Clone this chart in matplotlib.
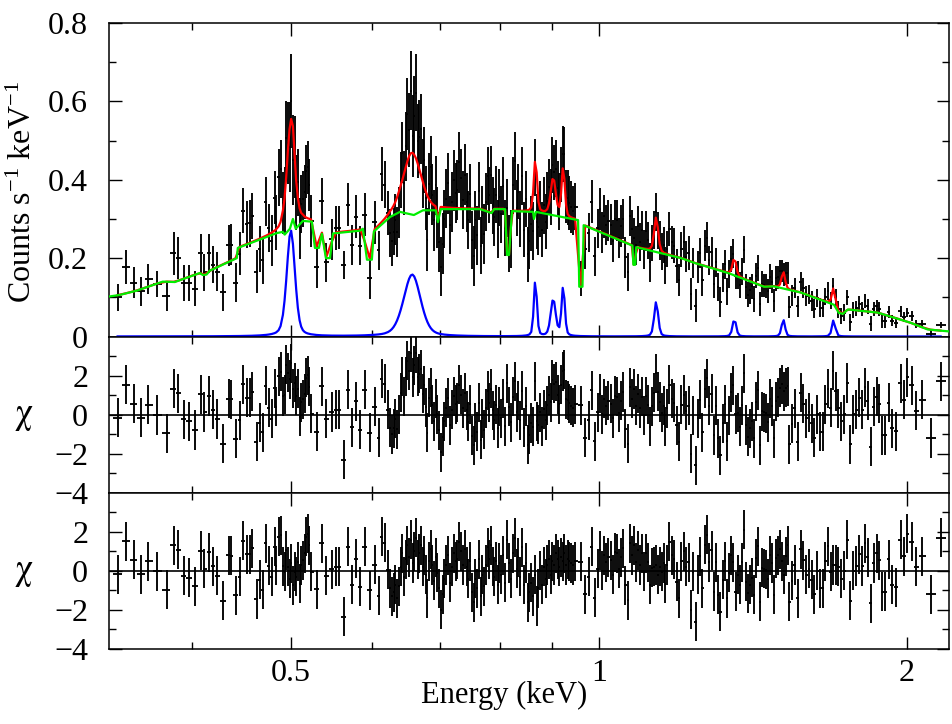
import numpy as np
import matplotlib
matplotlib.use("Agg")
import matplotlib.pyplot as plt
from matplotlib.ticker import FixedLocator, NullFormatter

plt.rcParams['font.family'] = ['Liberation Serif', 'DejaVu Serif']
plt.rcParams['mathtext.fontset'] = 'custom'
plt.rcParams['mathtext.rm'] = 'Liberation Serif'
plt.rcParams['mathtext.it'] = 'Liberation Serif:italic'
plt.rcParams['mathtext.bf'] = 'Liberation Serif:bold'

# ---- spectral bins (keV) ----
energy = [
    0.3385, 0.3449, 0.3510, 0.3568, 0.3628, 0.3699, 0.3781, 0.3839, 0.3882, 0.3928, 0.3973,
    0.4030, 0.4080, 0.4116, 0.4156, 0.4194, 0.4235, 0.4290, 0.4345, 0.4370, 0.4414,
    0.4454, 0.4487, 0.4531, 0.4556, 0.4579, 0.4631, 0.4659, 0.4694, 0.4729, 0.4758,
    0.4790, 0.4820, 0.4837, 0.4863, 0.4885, 0.4911, 0.4929, 0.4947, 0.4966, 0.4985,
    0.5003, 0.5023, 0.5042, 0.5060, 0.5079, 0.5099, 0.5117, 0.5137, 0.5156, 0.5175,
    0.5194, 0.5213, 0.5232,
    0.5298, 0.5362, 0.5414, 0.5484, 0.5537, 0.5568, 0.5630, 0.5686, 0.5737, 0.5793,
    0.5845, 0.5904, 0.5971, 0.6038, 0.6093, 0.6138, 0.6176, 0.6222,
    0.6250, 0.6275, 0.6300, 0.6325, 0.6350, 0.6375, 0.6400, 0.6425, 0.6450, 0.6475,
    0.6500, 0.6525, 0.6550, 0.6575, 0.6600, 0.6625, 0.6650, 0.6675, 0.6700, 0.6725,
    0.6750, 0.6775, 0.6800, 0.6825, 0.6850, 0.6875, 0.6900, 0.6925, 0.6950, 0.6975,
    0.7005, 0.7035, 0.7065, 0.7095, 0.7125, 0.7155, 0.7185, 0.7215, 0.7245, 0.7275,
    0.7305, 0.7335, 0.7365, 0.7395, 0.7425, 0.7455, 0.7485, 0.7515, 0.7545, 0.7575,
    0.7605, 0.7635, 0.7665, 0.7695, 0.7725, 0.7755, 0.7785, 0.7815, 0.7845, 0.7875,
    0.7905, 0.7935, 0.7965, 0.7995,
    0.8030, 0.8065, 0.8100, 0.8135, 0.8170, 0.8205, 0.8240, 0.8275, 0.8310, 0.8345,
    0.8380, 0.8415, 0.8450, 0.8485, 0.8520, 0.8555, 0.8590, 0.8625, 0.8660, 0.8695,
    0.8730, 0.8765, 0.8800, 0.8835, 0.8870, 0.8905, 0.8940, 0.8975, 0.9010, 0.9045,
    0.9080, 0.9115, 0.9150, 0.9185, 0.9220, 0.9255, 0.9290, 0.9325, 0.9360, 0.9395,
    0.9435, 0.9480, 0.9600, 0.9700, 0.9772, 0.9848, 0.9905, 0.9982,
    1.002, 1.007, 1.012, 1.017, 1.022, 1.027, 1.032, 1.037, 1.042, 1.047,
    1.052, 1.057, 1.062, 1.067, 1.072, 1.077, 1.082, 1.087, 1.092, 1.097,
    1.102, 1.107, 1.112, 1.117, 1.122, 1.127, 1.132, 1.137, 1.142, 1.147,
    1.152, 1.157, 1.162, 1.167,
    1.1720, 1.1785, 1.1850, 1.1915, 1.1980, 1.2045, 1.2110, 1.2175, 1.2240, 1.2305,
    1.2370, 1.2435, 1.2500, 1.2565, 1.2630, 1.2695, 1.2760, 1.2825, 1.2890, 1.2955,
    1.3020, 1.3085, 1.3150, 1.3215, 1.3280, 1.3345, 1.3410, 1.3475, 1.3540, 1.3605,
    1.3670, 1.3735, 1.3800, 1.3865, 1.3930, 1.3995, 1.4060, 1.4125, 1.4190, 1.4255,
    1.4320, 1.4385, 1.4450, 1.4515, 1.4580, 1.4645, 1.4710, 1.4775, 1.4840, 1.4905,
    1.4970, 1.5035, 1.5100, 1.5165, 1.5230, 1.5295, 1.5360,
    1.545, 1.555, 1.565, 1.575, 1.585, 1.595, 1.605, 1.615, 1.625, 1.635,
    1.645, 1.655, 1.665, 1.675, 1.685, 1.695, 1.705, 1.715, 1.725, 1.737,
    1.749, 1.761, 1.773, 1.785, 1.797, 1.809, 1.821, 1.833, 1.845, 1.857,
    1.869, 1.881, 1.893,
    1.905, 1.920, 1.937, 1.954, 1.973, 1.988, 2.003, 2.022, 2.041, 2.069,
    2.111, 2.159,
]

# ---- residuals against the full model (bottom panel) ----
chi_full = [
    -0.17, 1.52, 0.56, -0.17, 0.50, -0.03, -0.97, 1.32, 1.09, -0.24, -0.36,
    -0.80, 1.03, 0.12, 0.94, 0.24, -0.24, -1.52, 0.80, 0.77, -1.25,
    -0.31, 1.54, 0.84, 0.84, 1.15, -1.44, -0.46, -0.97, 1.40, 0.26,
    -0.31, 1.23, 0.26, 1.74, 1.83, 0.24, -0.05, 1.06, 0.20, -0.40,
    0.38, -0.74, -0.05, -0.31, 0.46, -0.65, 0.29, 0.55, 0.89, 1.74,
    1.91, 1.32, -0.05,
    -0.94, 1.40, -0.26, 0.09, 0.20, 0.20, -2.36, 1.23, -0.70, 0.63,
    -0.82, 1.23, -0.99, 0.32, -1.28, 1.74, 1.45, 0.05,
    -0.9, -1.3, -1.1, -0.7, -1.4, -0.8, 0.2, 0.9, -0.3, 0.6,
    1.3, 0.7, 1.6, 0.4, 1.0, 1.7, 0.6, 0.9, 1.3, 0.2,
    0.8, -0.2, -1.4, 0.5, 1.1, 0.3, -0.5, 0.7, -0.1, -0.9,
    -2.0, -1.2, -0.4, 0.3, 0.8, -0.6, 0.2, 0.9, 0.5, 0.6,
    1.5, 1.0, 0.3, 1.1, 0.2, -0.4, 0.5, -1.1, -1.6, -0.4,
    -0.9, 0.6, -1.3, -0.2, -0.8, 0.3, 1.2, 0.6, 1.3, 0.2,
    -0.3, 0.5, -0.7, 0.4,
    -0.2, 0.8, -0.6, 1.6, 0.4, -0.4, 0.9, 1.7, 0.1, 0.7,
    -0.3, 1.2, -0.7, 0.4, -1.6, -1.1, -0.6, -1.3, -0.2, -1.8,
    -0.9, 0.0, -0.7, 0.2, -0.4, 0.3, 0.6, -0.2, 0.5, 0.3,
    0.9, 0.6, 0.2, 0.7, 0.5, 0.9, 0.3, 0.6, 0.5, 0.4,
    0.3, 0.5, 0.46, -1.2, -0.3, 1.23, -1.37, 0.12,
    1.06, 0.0, 0.8, 0.45, 0.7, 0.55, -0.2, 0.95, 0.9, 0.1,
    0.7, 1.15, -0.74, -1.5, 1.4, 0.8, 1.3, 0.45, 1.05, 0.3,
    0.9, -0.05, 0.9, 0.45, -0.7, 0.15, 0.2, 0.3, -0.2, 0.2,
    -0.05, 0.4, -0.65, 0.3,
    1.5, 0.8, 0.6, -0.55, -1.4, 0.5, 1.0, 0.2, 0.45, -2.0,
    -0.05, -2.6, -0.2, 0.75, -0.9, 1.33, 1.85, 0.45, 1.05, -1.06,
    0.45, -1.23, -2.1, -0.45, 0.5, -1.4, -0.1, 0.8, 0.45, -1.06,
    -0.2, -0.7, 0.45, 2.1, -0.55, -1.15, -0.7, -0.35, -1.23, 0.65,
    1.25, -1.57, 0.15, 0.1, 0.05, -0.4, 0.8, 0.4, -1.23, 0.65,
    0.8, 1.1, 0.5, -0.2, 0.75, 1.3, -1.57,
    -0.5, 0.3, -1.4, 1.1, 0.55, -0.2, 0.1, -0.45, -1.2, 0.0,
    -0.9, -0.9, 0.5, 1.25, -0.05, 0.3, 0.3, 0.2, -0.4, 0.0,
    1.6, -1.54, 0.0, 0.25, 0.85, 0.25, 1.4, 0.7, -1.66, 0.4,
    0.9, 0.55, -1.06,
    -1.06, 0.6, -0.7, -0.85, 1.6, 0.75, 1.9, 1.5, 0.2, 0.75,
    -1.2, 1.7,
]

# ---- 1-sigma errors of the count rate (counts/s/keV) ----
rate_err = [
    0.034, 0.044, 0.040, 0.036, 0.038, 0.034, 0.038, 0.055, 0.053, 0.045, 0.046,
    0.045, 0.050, 0.048, 0.050, 0.048, 0.050, 0.047, 0.052, 0.052, 0.050,
    0.055, 0.058, 0.060, 0.060, 0.058, 0.056, 0.058, 0.060, 0.062, 0.062,
    0.066, 0.068, 0.070, 0.072, 0.074, 0.078, 0.085, 0.095, 0.105, 0.115,
    0.120, 0.115, 0.105, 0.095, 0.085, 0.078, 0.074, 0.072, 0.070, 0.068,
    0.068, 0.066, 0.066,
    0.055, 0.058, 0.050, 0.052, 0.055, 0.055, 0.036, 0.055, 0.052, 0.055,
    0.050, 0.055, 0.052, 0.055, 0.050, 0.070, 0.060, 0.056,
    0.062, 0.064, 0.060, 0.065, 0.063, 0.066, 0.072, 0.078, 0.082, 0.088,
    0.092, 0.095, 0.100, 0.105, 0.100, 0.098, 0.095, 0.092, 0.090, 0.088,
    0.085, 0.082, 0.080, 0.078, 0.080, 0.078, 0.078, 0.076, 0.078, 0.076,
    0.076, 0.078, 0.074, 0.076, 0.078, 0.074, 0.076, 0.078, 0.076, 0.076,
    0.078, 0.076, 0.074, 0.078, 0.076, 0.074, 0.076, 0.074, 0.076, 0.074,
    0.076, 0.074, 0.072, 0.074, 0.076, 0.074, 0.074, 0.072, 0.074, 0.072,
    0.074, 0.072, 0.074, 0.072,
    0.072, 0.074, 0.072, 0.074, 0.072, 0.074, 0.072, 0.074, 0.072, 0.070,
    0.072, 0.074, 0.070, 0.072, 0.070, 0.072, 0.070, 0.074, 0.072, 0.070,
    0.072, 0.072, 0.070, 0.072, 0.070, 0.072, 0.070, 0.072, 0.072, 0.070,
    0.072, 0.070, 0.072, 0.070, 0.072, 0.070, 0.068, 0.070, 0.068, 0.066,
    0.062, 0.060, 0.045, 0.050, 0.050, 0.055, 0.050, 0.050,
    0.054, 0.052, 0.055, 0.051, 0.053, 0.052, 0.054, 0.050, 0.052, 0.051,
    0.053, 0.050, 0.052, 0.049, 0.051, 0.050, 0.052, 0.049, 0.051, 0.048,
    0.050, 0.049, 0.051, 0.048, 0.050, 0.047, 0.049, 0.048, 0.047, 0.049,
    0.047, 0.046, 0.048, 0.046,
    0.044, 0.042, 0.045, 0.043, 0.041, 0.044, 0.042, 0.040, 0.043, 0.041,
    0.039, 0.042, 0.040, 0.038, 0.041, 0.039, 0.040, 0.038, 0.039, 0.037,
    0.038, 0.036, 0.038, 0.036, 0.037, 0.035, 0.036, 0.034, 0.036, 0.034,
    0.035, 0.033, 0.034, 0.035, 0.033, 0.032, 0.034, 0.032, 0.033, 0.031,
    0.033, 0.031, 0.032, 0.030, 0.031, 0.030, 0.031, 0.029, 0.030, 0.031,
    0.029, 0.030, 0.028, 0.030, 0.029, 0.028, 0.029,
    0.027, 0.026, 0.027, 0.025, 0.026, 0.025, 0.024, 0.025, 0.024, 0.023,
    0.024, 0.023, 0.022, 0.023, 0.022, 0.021, 0.022, 0.021, 0.020, 0.021,
    0.020, 0.021, 0.020, 0.019, 0.020, 0.019, 0.018, 0.019, 0.018, 0.018,
    0.017, 0.018, 0.017,
    0.016, 0.015, 0.014, 0.014, 0.013, 0.013, 0.012, 0.012, 0.011, 0.010,
    0.009, 0.008,
]

# ---- continuum model (green) breakpoints ----
cont_energy = [0.332, 0.340, 0.3534, 0.3747, 0.385, 0.4073, 0.410, 0.4135, 0.4166, 0.4427,
               0.4437, 0.4845, 0.491, 0.4931, 0.4989, 0.5023, 0.5055, 0.5137, 0.5242, 0.5278,
               0.5326, 0.5362, 0.541, 0.546, 0.5497, 0.5841, 0.588, 0.5934, 0.600, 0.6027,
               0.625, 0.6392, 0.6595, 0.6731, 0.6928, 0.6962, 0.7006, 0.7656, 0.7856, 0.790,
               0.8098, 0.8134, 0.817, 0.8226, 0.8623, 0.8643, 0.868, 0.9545, 0.9570, 0.9640,
               0.9665, 1.0787, 1.0810, 1.0855, 1.0880, 1.204, 1.2397, 1.338, 1.451, 1.483,
               1.577, 1.698, 1.717, 1.733, 1.752, 1.8735, 2.018, 2.0966, 2.20]
cont_rate = [0.102, 0.106, 0.117, 0.140, 0.139, 0.162, 0.157, 0.158, 0.168, 0.200,
             0.226, 0.264, 0.267, 0.260, 0.275, 0.300, 0.275, 0.295, 0.293, 0.226,
             0.226, 0.262, 0.200, 0.200, 0.263, 0.270, 0.275, 0.196, 0.196, 0.268,
             0.305, 0.318, 0.310, 0.322, 0.322, 0.292, 0.325, 0.325, 0.315, 0.325,
             0.325, 0.208, 0.208, 0.320, 0.318, 0.300, 0.318, 0.297, 0.127, 0.127,
             0.284, 0.232, 0.183, 0.183, 0.228, 0.200, 0.188, 0.162, 0.127, 0.128,
             0.112, 0.081, 0.060, 0.058, 0.069, 0.061, 0.035, 0.018, 0.013]

# ---- emission lines (blue): centre (keV), peak (counts/s/keV), FWHM (keV) ----
line_center = [0.500, 0.657, 0.867, 0.9025, 0.923, 1.138, 1.357, 1.515, 1.697]
line_peak = [0.270, 0.158, 0.145, 0.094, 0.127, 0.089, 0.045, 0.043, 0.043]
line_fwhm = [0.011, 0.030, 0.007, 0.012, 0.008, 0.012, 0.013, 0.014, 0.015]

E = np.array(energy)
chi_f = np.array(chi_full)
err = np.array(rate_err)


def line_profile(x, c, a, w, eta=0.35):
    u = (x - c) / (w / 2.0)
    return a * (eta / (1.0 + u ** 2) + (1 - eta) * np.exp(-np.log(2) * u ** 2))


cont_at_bins = np.interp(E, cont_energy, cont_rate)
lines_at_bins = sum(line_profile(E, c, a, w) for c, a, w in zip(line_center, line_peak, line_fwhm))
full_model = cont_at_bins + lines_at_bins
rate = full_model + chi_f * err            # observed rate
chi_c = (rate - cont_at_bins) / err        # residuals against continuum only

mid = 0.5 * (E[1:] + E[:-1])
left = np.concatenate([[E[0] - (mid[0] - E[0])], mid])
right = np.concatenate([mid, [E[-1] + (E[-1] - mid[-1])]])
xerr = [E - left, right - E]

fig = plt.figure(figsize=(9.52, 7.24), dpi=100)
L, W = 109 / 952, 840 / 952
ax1 = fig.add_axes([L, 1 - 336.5 / 724, W, 313.5 / 724])
ax2 = fig.add_axes([L, 1 - 492.7 / 724, W, 156.2 / 724], sharex=ax1)
ax3 = fig.add_axes([L, 1 - 649.0 / 724, W, 156.3 / 724], sharex=ax1)

ekw = dict(fmt='none', ecolor='black', elinewidth=1.35, capsize=0, zorder=1)
ax1.errorbar(E, rate, yerr=err, xerr=xerr, **ekw)
ax1.plot(E, full_model, color='#ff0000', lw=1.6, zorder=2)
ax1.plot(cont_energy, cont_rate, color='#00ee00', lw=1.6, zorder=3)
ax1.plot(E, lines_at_bins, color='#0000ff', lw=1.6, zorder=4)

ax2.errorbar(E, chi_c, yerr=np.ones_like(E), xerr=xerr, **ekw)
ax2.axhline(0, color='black', lw=1.2, zorder=2)
ax3.errorbar(E, chi_f, yerr=np.ones_like(E), xerr=xerr, **ekw)
ax3.axhline(0, color='black', lw=1.2, zorder=2)

ax1.set_xscale('log')
ax1.set_xlim(0.332, 2.2)
ax1.set_ylim(0, 0.8)
ax1.set_yticks([0, 0.2, 0.4, 0.6, 0.8], labels=['0', '0.2', '0.4', '0.6', '0.8'])
ax1.yaxis.set_minor_locator(FixedLocator([0.1, 0.3, 0.5, 0.7]))

for ax in (ax2, ax3):
    ax.set_ylim(-4, 4)
    ax.set_yticks([-4, -2, 0, 2], labels=['\u22124', '\u22122', '0', '2'])
    ax.yaxis.set_minor_locator(FixedLocator([-3, -1, 1, 3]))

for ax in (ax1, ax2, ax3):
    ax.xaxis.set_major_locator(FixedLocator([0.5, 1, 2]))
    ax.xaxis.set_minor_locator(FixedLocator([0.4, 0.6, 0.7, 0.8, 0.9]))
    ax.xaxis.set_minor_formatter(NullFormatter())
    ax.tick_params(which='both', direction='in', top=True, right=True, width=1.0,
                   labelsize=23)
    ax.tick_params(which='major', length=9)
    ax.tick_params(which='minor', length=5)
    ax.tick_params(axis='y', pad=15)
    ax.tick_params(axis='x', pad=7)
    for s in ax.spines.values():
        s.set_linewidth(1.1)

ax3.set_xticks([0.5, 1, 2], labels=['0.5', '1', '2'])
ax1.tick_params(labelbottom=False)
ax2.tick_params(labelbottom=False)

ax1.set_ylabel(r'Counts s$^{-1}$ keV$^{-1}$', fontsize=23)
ax1.yaxis.set_label_coords(-0.0845, 0.46)
for ax in (ax2, ax3):
    ax.set_ylabel('\u03c7', fontsize=26, rotation=0, ha='center', va='center',
                  family=['STIXGeneral', 'DejaVu Serif'])
    ax.yaxis.set_label_coords(-0.102, 0.5)
ax3.set_xlabel('Energy (keV)', fontsize=22)
ax3.xaxis.set_label_coords(0.470, -0.205)

fig.savefig('out.png', dpi=100)
